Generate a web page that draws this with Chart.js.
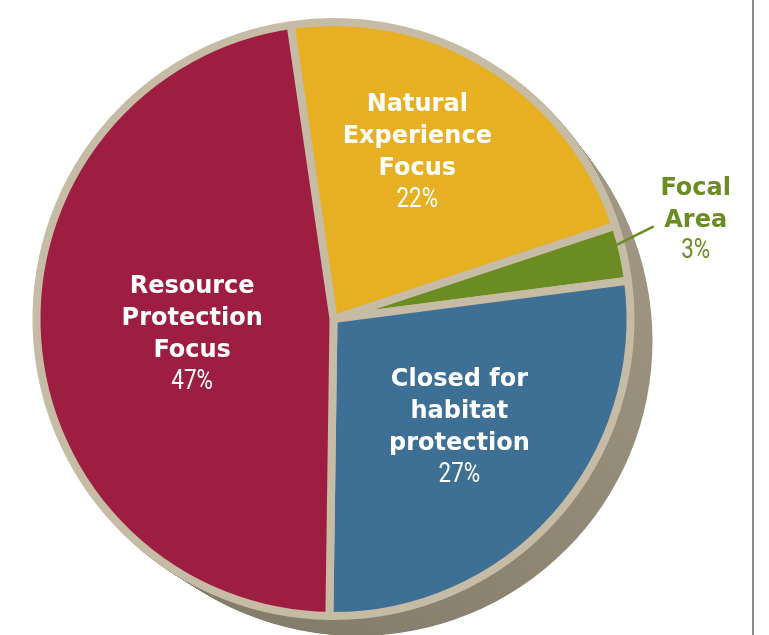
<!DOCTYPE html>
<html>
<head>
<meta charset="utf-8">
<script src="https://cdn.jsdelivr.net/npm/chart.js@4"></script>
<style>
  html, body { margin: 0; padding: 0; background: #fff; }
  #wrap { position: relative; width: 769px; height: 635px; }
  #rule { position: absolute; left: 752px; top: 0; width: 2px; height: 635px; background: #8c8c8c; }
</style>
</head>
<body>
<div id="wrap">
  <canvas id="myChart"></canvas>
  <div id="rule"></div>
</div>
<script>
// slice order goes clockwise from just left of the top
let names = [
    ['Natural', 'Experience', 'Focus'],
    ['Focal', 'Area'],
    ['Closed for', 'habitat', 'protection'],
    ['Resource', 'Protection', 'Focus']
];
let shares = [22, 3, 27, 47];
let colors = ['#e6b022', '#6a8c22', '#3e7096', '#9e1e42'];

// where each label sits: [angle shift in degrees, distance as part of radius, outside?]
const labelPlace = [
    [-4.9, 0.626, false],
    [-2.4, 1.264, true],
    [-0.9, 0.560, false],
    [-2.7, 0.479, false]
];

const data = {
    labels: names.map(n => n.join(' ')),
    datasets: [{
        data: shares,
        backgroundColor: colors,
        borderColor: '#c6bba4',
        borderWidth: 8
    }]
};

// the raised edge under the pie
const edgePlugin = {
    id: 'edge',
    beforeDatasetsDraw(chart) {
        const arc = chart.getDatasetMeta(0).data[0];
        const ctx = chart.ctx;
        const r = arc.outerRadius + 4;
        ctx.save();
        const g = ctx.createLinearGradient(arc.x + r, arc.y - r, arc.x - r * 0.2, arc.y + r);
        g.addColorStop(0, '#a89e8a');
        g.addColorStop(1, '#857d6b');
        ctx.fillStyle = g;
        const steps = 24;
        for (let i = 1; i <= steps; i++) {
            const t = i / steps;
            ctx.beginPath();
            ctx.arc(arc.x + 24 * t, arc.y + 22 * t, r - 6 * t, 0, Math.PI * 2);
            ctx.fill();
        }
        ctx.restore();
    }
};

const labelPlugin = {
    id: 'sliceLabels',
    afterDatasetsDraw(chart) {
        const ctx = chart.ctx;
        const arcs = chart.getDatasetMeta(0).data;
        ctx.save();
        ctx.textAlign = 'center';
        ctx.textBaseline = 'middle';
        arcs.forEach((arc, i) => {
            const p = labelPlace[i];
            const mid = (arc.startAngle + arc.endAngle) / 2 + p[0] * Math.PI / 180;
            const cx = arc.x + Math.cos(mid) * arc.outerRadius * p[1];
            const cy = arc.y + Math.sin(mid) * arc.outerRadius * p[1];
            const lines = names[i];
            const n = lines.length + 1;
            const lh = 32;
            let y = cy - (n - 1) * lh / 2;
            const col = p[2] ? colors[i] : '#ffffff';
            ctx.fillStyle = col;
            ctx.font = 'bold 24px "DejaVu Sans", sans-serif';
            lines.forEach(t => {
                ctx.fillText(t, cx, y);
                y += lh;
            });
            // narrow percent
            ctx.save();
            ctx.translate(cx, y - 1);
            ctx.scale(0.8, 1);
            ctx.font = '28px Roboto, sans-serif';
            ctx.fillText(shares[i] + '%', 0, 0);
            ctx.restore();
            if (p[2]) {
                // leader line back into the slice
                const a2 = (arc.startAngle + arc.endAngle) / 2 - 1.5 * Math.PI / 180;
                const x1 = arc.x + Math.cos(a2) * arc.outerRadius * 0.96;
                const y1 = arc.y + Math.sin(a2) * arc.outerRadius * 0.96;
                ctx.strokeStyle = col;
                ctx.lineWidth = 2.5;
                ctx.beginPath();
                ctx.moveTo(x1, y1);
                ctx.lineTo(cx - 42, cy + 6);
                ctx.stroke();
            }
        });
        ctx.restore();
    }
};

const config = {
    type: 'pie',
    data: data,
    options: {
        responsive: true,
        maintainAspectRatio: false,
        animation: false,
        rotation: -8.3,
        layout: {
            padding: { left: 31, right: 133, top: 18, bottom: 15 }
        },
        plugins: {
            legend: { display: false },
            tooltip: { enabled: false }
        }
    },
    plugins: [edgePlugin, labelPlugin]
};

const myChart = new Chart(
    document.getElementById('myChart'),
    config);
</script>
</body>
</html>
